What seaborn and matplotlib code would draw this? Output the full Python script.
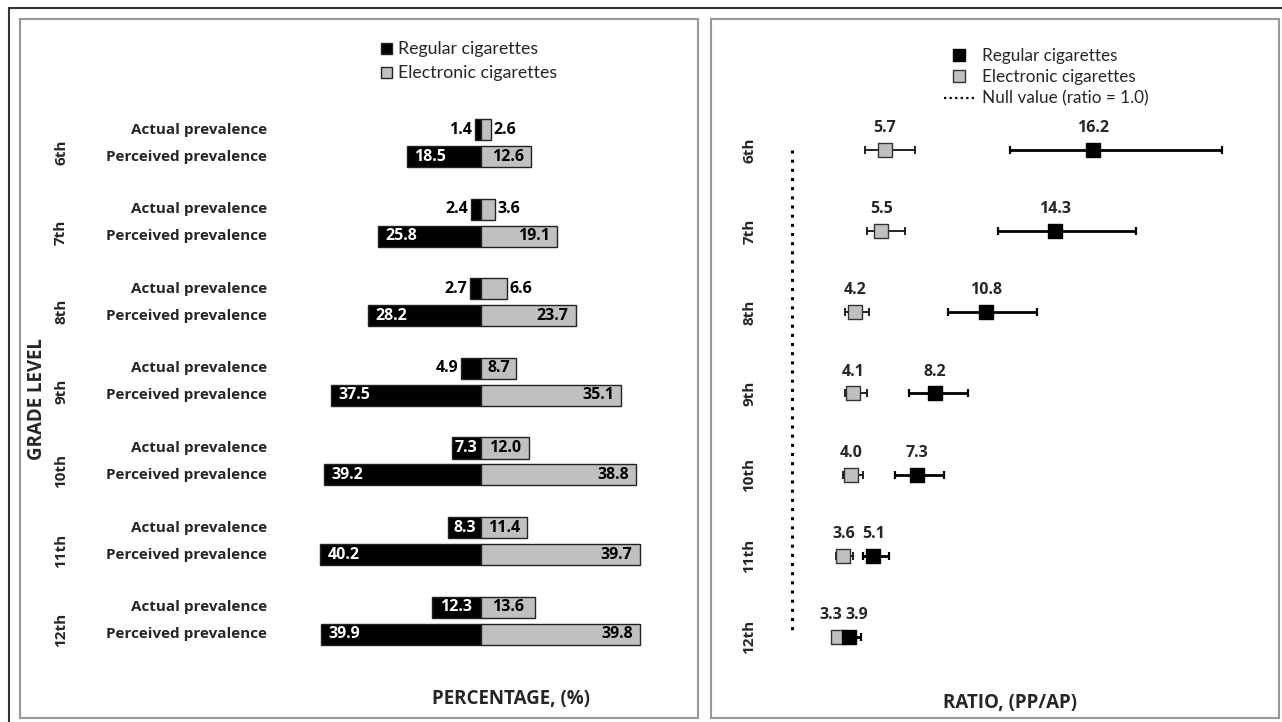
import numpy as np
import pandas as pd
import matplotlib.pyplot as plt
from matplotlib.lines import Line2D
from matplotlib.patches import Patch
import seaborn as sns

# Datos
grades = ['6th', '7th', '8th', '9th', '10th', '11th', '12th']
actual_regular = [1.4, 2.4, 2.7, 4.9, 7.3, 8.3, 12.3]
actual_electronic = [2.6, 3.6, 6.6, 8.7, 12.0, 11.4, 13.6]
perceived_regular = [18.5, 25.8, 28.2, 37.5, 39.2, 40.2, 39.9]
perceived_electronic = [12.6, 19.1, 23.7, 35.1, 38.8, 39.7, 39.8]

ratio_regular = [16.2, 14.3, 10.8, 8.2, 7.3, 5.1, 3.9]
ratio_regular_low = [12.0, 11.4, 8.9, 6.9, 6.2, 4.6, 3.6]
ratio_regular_high = [22.7, 18.4, 13.4, 9.9, 8.7, 5.9, 4.5]
ratio_electronic = [5.7, 5.5, 4.2, 4.1, 4.0, 3.6, 3.3]
ratio_electronic_low = [4.7, 4.8, 3.7, 3.7, 3.6, 3.2, 3.0]
ratio_electronic_high = [7.2, 6.7, 4.9, 4.8, 4.6, 4.1, 3.7]

BLACK = '#000000'
GREY = '#c0c0c0'
GAP = 2.951  # distancia entre grupos (en unidades de fila)
FAM = ['Open Sans', 'DejaVu Sans']

sns.set_theme(style='white')
plt.rcParams['font.family'] = ['Lato', 'DejaVu Sans']

fig = plt.figure(figsize=(12.82, 7.22), dpi=100)
ax1 = fig.add_axes([20 / 1282, 4 / 722, 678 / 1282, 699 / 722])
ax2 = fig.add_axes([711 / 1282, 4 / 722, 568 / 1282, 699 / 722])

# ---------------- Panel izquierdo: barras divergentes ----------------
rows = []
for i, g in enumerate(grades):
    ya = i * GAP
    yp = i * GAP + 1
    rows.append({'y': ya, 'value': -actual_regular[i], 'type': 'Regular cigarettes'})
    rows.append({'y': ya, 'value': actual_electronic[i], 'type': 'Electronic cigarettes'})
    rows.append({'y': yp, 'value': -perceived_regular[i], 'type': 'Regular cigarettes'})
    rows.append({'y': yp, 'value': perceived_electronic[i], 'type': 'Electronic cigarettes'})
df = pd.DataFrame(rows)

sns.barplot(data=df, x='value', y='y', hue='type', orient='h', native_scale=True,
            dodge=False, width=0.78, palette={'Regular cigarettes': BLACK,
                                              'Electronic cigarettes': GREY},
            edgecolor='#222222', linewidth=1.0, legend=False, ax=ax1)

ax1.set_xlim(-115.25, 54.25)
ax1.set_ylim(21.82, -4.11)

tfont = dict(fontsize=11, fontweight='bold', family=FAM)
vfont = dict(fontsize=11.5, fontweight='bold', family=FAM)
for i, g in enumerate(grades):
    ya = i * GAP
    yp = i * GAP + 1
    ax1.text(-53.5, ya, 'Actual prevalence', ha='right', va='center', **tfont)
    ax1.text(-53.5, yp, 'Perceived prevalence', ha='right', va='center', **tfont)
    ax1.text(-105, ya + 0.85, g, ha='center', va='center', rotation=90, **tfont)

    # etiquetas de prevalencia actual
    ar, ae = actual_regular[i], actual_electronic[i]
    if ar < 6:
        ax1.text(-ar - 0.8, ya, f'{ar:.1f}', ha='right', va='center', color='black', **vfont)
    else:
        ax1.text(-ar / 2, ya, f'{ar:.1f}', ha='center', va='center', color='white', **vfont)
    if ae < 7.5:
        ax1.text(ae + 0.5, ya, f'{ae:.1f}', ha='left', va='center', color='black', **vfont)
    else:
        ax1.text(ae / 2, ya, f'{ae:.1f}', ha='center', va='center', color='black', **vfont)

    # etiquetas de prevalencia percibida
    pr, pe = perceived_regular[i], perceived_electronic[i]
    ax1.text(-pr + 1.8, yp, f'{pr:.1f}', ha='left', va='center', color='white', **vfont)
    ax1.text(pe - 1.8, yp, f'{pe:.1f}', ha='right', va='center', color='black', **vfont)

ax1.text(-111, 10.0, 'GRADE LEVEL', rotation=90, ha='center', va='center',
         fontsize=13.5, fontweight='bold', family=FAM)
ax1.text(7.5, 21.1, 'PERCENTAGE, (%)', ha='center', va='center',
         fontsize=13.5, fontweight='bold', family=FAM)

leg1 = [Patch(facecolor=BLACK, edgecolor='#222222', label='Regular cigarettes'),
        Patch(facecolor=GREY, edgecolor='#222222', label='Electronic cigarettes')]
ax1.legend(handles=leg1, loc='upper left', bbox_to_anchor=(0.522, 0.978), frameon=False,
           fontsize=12.8, handlelength=0.6, handleheight=0.6, handletextpad=0.35,
           labelspacing=0.45, borderaxespad=0)

# ---------------- Panel derecho: razones con IC ----------------
ypos = np.arange(len(grades))
df_r = pd.DataFrame({
    'ratio': ratio_electronic + ratio_regular,
    'y': list(ypos) + list(ypos),
    'type': ['Electronic cigarettes'] * 7 + ['Regular cigarettes'] * 7,
})

ax2.errorbar(ratio_electronic, ypos,
             xerr=[np.array(ratio_electronic) - np.array(ratio_electronic_low),
                   np.array(ratio_electronic_high) - np.array(ratio_electronic)],
             fmt='none', ecolor='#111111', elinewidth=1.3, capsize=3, capthick=1.3, zorder=2)
ax2.errorbar(ratio_regular, ypos,
             xerr=[np.array(ratio_regular) - np.array(ratio_regular_low),
                   np.array(ratio_regular_high) - np.array(ratio_regular)],
             fmt='none', ecolor='black', elinewidth=2.0, capsize=3, capthick=1.6, zorder=2)

sns.scatterplot(data=df_r[df_r['type'] == 'Electronic cigarettes'], x='ratio', y='y',
                marker='s', s=95, color=GREY, edgecolor='#333333', linewidth=1.0,
                zorder=3, legend=False, ax=ax2)
sns.scatterplot(data=df_r[df_r['type'] == 'Regular cigarettes'], x='ratio', y='y',
                marker='s', s=110, color=BLACK, edgecolor='black', linewidth=1.0,
                zorder=4, legend=False, ax=ax2)

ax2.vlines(1.0, 0, 5.95, colors='black', linestyles=(0, (1, 2)), linewidth=2.2)

ax2.set_xlim(-3.09, 25.6)
ax2.set_ylim(7.0, -1.614)

for i, g in enumerate(grades):
    re_, rr = ratio_electronic[i], ratio_regular[i]
    off = 0.0
    if abs(rr - re_) < 1.0:
        off = 0.35
    ax2.text(re_ - off, i - 0.27, f'{re_:.1f}', ha='center', va='center', **vfont)
    ax2.text(rr + off, i - 0.27, f'{rr:.1f}', ha='center', va='center', **vfont)
    ax2.text(-1.15, i, g, ha='center', va='center', rotation=90, **tfont)

ax2.text(12.0, 6.82, 'RATIO, (PP/AP)', ha='center', va='center',
         fontsize=13.5, fontweight='bold', family=FAM)

leg2 = [Line2D([], [], marker='s', color='none', markerfacecolor=BLACK, markeredgecolor='black',
               markersize=8, label='Regular cigarettes'),
        Line2D([], [], marker='s', color='none', markerfacecolor=GREY, markeredgecolor='#333333',
               markersize=8, label='Electronic cigarettes'),
        Line2D([], [], color='black', linestyle=(0, (1, 1.5)), linewidth=1.6,
               label='Null value (ratio = 1.0)')]
ax2.legend(handles=leg2, loc='upper left', bbox_to_anchor=(0.398, 0.968), frameon=False,
           fontsize=12.3, handlelength=1.8, handletextpad=0.45, labelspacing=0.3,
           borderaxespad=0)

for ax in (ax1, ax2):
    ax.set_xlabel('')
    ax.set_ylabel('')
    ax.set_xticks([])
    ax.set_yticks([])
    for sp in ax.spines.values():
        sp.set_visible(True)
        sp.set_color('#999999')
        sp.set_linewidth(1.5)

# marco exterior (arriba e izquierda)
fig.add_artist(Line2D([9 / 1282, 1.0], [1 - 8 / 722, 1 - 8 / 722], color='#333333', lw=1.5,
                      transform=fig.transFigure))
fig.add_artist(Line2D([9 / 1282, 9 / 1282], [0, 1 - 8 / 722], color='#333333', lw=1.5,
                      transform=fig.transFigure))

fig.savefig('out.png', dpi=100)
